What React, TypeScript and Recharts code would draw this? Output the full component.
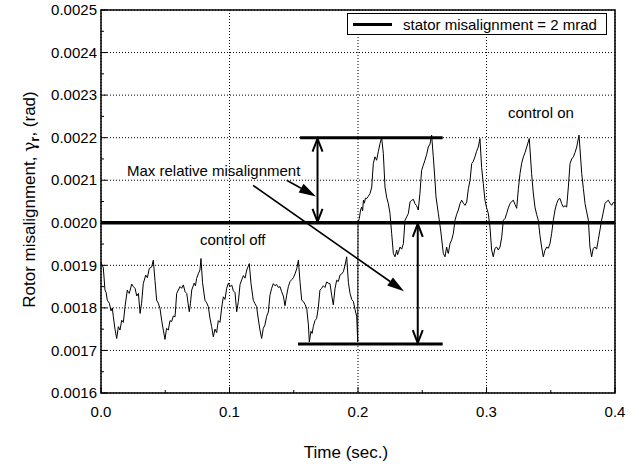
import {
  CartesianGrid,
  Legend,
  Line,
  LineChart,
  ReferenceArea,
  ReferenceDot,
  ReferenceLine,
  XAxis,
  YAxis,
} from "recharts"

// time (s), rotor misalignment (rad), control off
const controlOff: [number, number][] = [
  [0.0, 0.001906], [0.001, 0.0019], [0.0018, 0.001894], [0.0031, 0.001842], [0.004, 0.001836],
  [0.0049, 0.001818], [0.0065, 0.001811], [0.0078, 0.001793], [0.0088, 0.0018], [0.0096, 0.001779],
  [0.0109, 0.00175], [0.0122, 0.001728], [0.0135, 0.001756], [0.0148, 0.001748], [0.0161, 0.001771],
  [0.0174, 0.001766], [0.0187, 0.001803], [0.0205, 0.001842], [0.0213, 0.001836], [0.022, 0.001834],
  [0.0239, 0.001856], [0.0252, 0.00185], [0.0265, 0.001846], [0.0278, 0.001828], [0.0291, 0.001834],
  [0.0304, 0.001787], [0.0316, 0.001811], [0.0329, 0.001857], [0.0348, 0.001877], [0.0361, 0.001871],
  [0.0376, 0.001893], [0.0394, 0.001896], [0.0407, 0.001912], [0.042, 0.001865], [0.0433, 0.001818],
  [0.0446, 0.001811], [0.0459, 0.001799], [0.0472, 0.001771], [0.0485, 0.001748],
  [0.0498, 0.001726], [0.051, 0.001752], [0.0524, 0.001748], [0.0537, 0.00177], [0.055, 0.001768],
  [0.0563, 0.001781], [0.0576, 0.001779], [0.0589, 0.001834], [0.0602, 0.001842], [0.0615, 0.00185],
  [0.0628, 0.001846], [0.0641, 0.001854], [0.0654, 0.001838], [0.0667, 0.001834], [0.0687, 0.001791],
  [0.0696, 0.00181], [0.0706, 0.001842], [0.0725, 0.001858], [0.0735, 0.001852], [0.0744, 0.001869],
  [0.0757, 0.00188], [0.077, 0.001889], [0.0778, 0.001916], [0.079, 0.00186], [0.0809, 0.001818],
  [0.0822, 0.001812], [0.0835, 0.001803], [0.0848, 0.001776], [0.0861, 0.001756], [0.0874, 0.001732],
  [0.0887, 0.00175], [0.09, 0.001742], [0.0913, 0.00177], [0.0926, 0.001766], [0.0939, 0.0018],
  [0.0952, 0.001826], [0.0965, 0.00182], [0.0978, 0.001846], [0.0991, 0.001858], [0.1004, 0.00185],
  [0.1017, 0.001854], [0.103, 0.00184], [0.1043, 0.001836], [0.1056, 0.001791], [0.1069, 0.001815],
  [0.1082, 0.001855], [0.1095, 0.001866], [0.1108, 0.001876], [0.1121, 0.00187], [0.1134, 0.001889],
  [0.1154, 0.001904], [0.1167, 0.001858], [0.1185, 0.001818], [0.1198, 0.00181], [0.1211, 0.001803],
  [0.1224, 0.001774], [0.1237, 0.001748], [0.125, 0.001728],
  [0.1263, 0.001752], [0.1276, 0.00176], [0.1289, 0.00178], [0.1302, 0.00179], [0.1315, 0.00183],
  [0.1328, 0.001846], [0.1341, 0.001857], [0.1354, 0.001852], [0.1367, 0.001855], [0.138, 0.001848],
  [0.1393, 0.00185], [0.1406, 0.001838], [0.1419, 0.001828], [0.1432, 0.001805], [0.1445, 0.00183],
  [0.1458, 0.00185], [0.1471, 0.001862], [0.1484, 0.001866], [0.1497, 0.001871], [0.151, 0.00188],
  [0.1523, 0.001892], [0.1536, 0.001912], [0.1549, 0.00186], [0.1562, 0.001818], [0.1575, 0.001815],
  [0.1588, 0.001808], [0.1601, 0.001799], [0.1614, 0.00176], [0.1621, 0.00172],
  [0.1634, 0.001745], [0.1643, 0.00174], [0.1652, 0.001756], [0.1665, 0.00177], [0.1678, 0.001775],
  [0.1691, 0.0018], [0.1704, 0.001842], [0.1717, 0.001846], [0.173, 0.001852], [0.1743, 0.001848],
  [0.1756, 0.001861], [0.1769, 0.001858], [0.1782, 0.001857], [0.1795, 0.00183], [0.1808, 0.001807],
  [0.1821, 0.001845], [0.1834, 0.001865], [0.1847, 0.001862], [0.186, 0.001877], [0.1873, 0.00188],
  [0.1886, 0.001885], [0.1899, 0.0019], [0.1912, 0.00192], [0.1925, 0.00186], [0.1938, 0.001834],
  [0.1951, 0.00182], [0.1964, 0.001815], [0.1977, 0.001796], [0.199, 0.00178], [0.1998, 0.00172],
]

// control on
const controlOn: [number, number][] = [
  [0.2, 0.002], [0.201, 0.00201], [0.202, 0.00203], [0.2029, 0.002037], [0.2036, 0.002028],
  [0.2042, 0.002053], [0.205, 0.002046], [0.2058, 0.002058], [0.2068, 0.002057], [0.208, 0.002062],
  [0.2094, 0.002069], [0.2107, 0.002084], [0.2119, 0.002139], [0.2132, 0.002155], [0.214, 0.00215],
  [0.2145, 0.002147], [0.2158, 0.002167], [0.2171, 0.002186], [0.2184, 0.0022], [0.2197, 0.002163],
  [0.221, 0.002084], [0.2223, 0.00206], [0.2236, 0.002045], [0.2249, 0.002022], [0.2262, 0.001975],
  [0.2275, 0.001928], [0.2288, 0.00192], [0.2301, 0.001936], [0.2308, 0.001925], [0.2314, 0.00193],
  [0.2327, 0.001943], [0.234, 0.001938], [0.2353, 0.001951], [0.2366, 0.002006], [0.2379, 0.002014],
  [0.2392, 0.002022], [0.2405, 0.002049], [0.2418, 0.002053], [0.2431, 0.002055], [0.2443, 0.002045],
  [0.2456, 0.00204], [0.2469, 0.00203], [0.2482, 0.002069], [0.2495, 0.002123], [0.2508, 0.002135],
  [0.2521, 0.002147], [0.2534, 0.00216], [0.2547, 0.002178], [0.256, 0.002185], [0.2573, 0.002206],
  [0.2586, 0.002155], [0.2599, 0.0021], [0.2607, 0.002061], [0.2625, 0.002022], [0.2643, 0.001983],
  [0.2664, 0.001928], [0.2677, 0.00192], [0.269, 0.001943], [0.2697, 0.001932], [0.2703, 0.001928],
  [0.2716, 0.001951], [0.2729, 0.00196], [0.2742, 0.001975], [0.2755, 0.002006], [0.2768, 0.00202],
  [0.2781, 0.00203], [0.2794, 0.002045], [0.2807, 0.002053], [0.282, 0.002046], [0.2833, 0.002041],
  [0.2846, 0.002049], [0.2859, 0.00208], [0.2872, 0.0021], [0.2885, 0.002139], [0.2898, 0.002145],
  [0.291, 0.002155], [0.2923, 0.002168], [0.2936, 0.002178], [0.2949, 0.002198], [0.2962, 0.00213],
  [0.2975, 0.002092], [0.2988, 0.002053], [0.3001, 0.002035], [0.3014, 0.002022], [0.3027, 0.00199],
  [0.304, 0.001936], [0.3053, 0.00192], [0.3066, 0.00194], [0.3079, 0.001943], [0.3092, 0.001936],
  [0.3105, 0.001943], [0.3118, 0.001965], [0.3131, 0.002006], [0.3144, 0.00201], [0.3157, 0.002022],
  [0.317, 0.002035], [0.3183, 0.002045], [0.3196, 0.00205], [0.3209, 0.002053], [0.3222, 0.002043],
  [0.3235, 0.002034], [0.3248, 0.00208], [0.3261, 0.002116], [0.3274, 0.00214], [0.3287, 0.002155],
  [0.33, 0.002165], [0.3313, 0.002178], [0.3333, 0.002198], [0.3351, 0.002116], [0.3364, 0.00207],
  [0.3377, 0.002037], [0.339, 0.00202], [0.3403, 0.002006], [0.3416, 0.00197], [0.3429, 0.001943],
  [0.3442, 0.00192], [0.3455, 0.001935], [0.3468, 0.001943], [0.3481, 0.00194], [0.3494, 0.001951],
  [0.3507, 0.001975], [0.352, 0.002006], [0.3533, 0.00203], [0.3546, 0.002045], [0.3559, 0.002055],
  [0.3572, 0.002057], [0.3585, 0.002045], [0.3598, 0.002037], [0.3611, 0.00204], [0.3624, 0.002037],
  [0.3637, 0.002084], [0.365, 0.002139], [0.3663, 0.00215], [0.3676, 0.002155], [0.3689, 0.002165],
  [0.3702, 0.002178], [0.372, 0.002206], [0.3741, 0.002116], [0.3754, 0.00208], [0.3767, 0.002045],
  [0.378, 0.002025], [0.3793, 0.002006], [0.3805, 0.001943], [0.3818, 0.00192], [0.3831, 0.00194],
  [0.3844, 0.001943], [0.3857, 0.001938], [0.387, 0.00196], [0.3883, 0.001983], [0.3896, 0.002006],
  [0.3909, 0.002025], [0.3922, 0.002045], [0.3935, 0.00205], [0.3948, 0.002053], [0.3961, 0.002046],
  [0.3974, 0.002041], [0.3987, 0.002048], [0.4, 0.002045],
]

const statorTime = [0, 0.4]
const statorValue = [0.002, 0.002]

const xMajor = [0, 0.1, 0.2, 0.3, 0.4]
const xMinor = [0.05, 0.15, 0.25, 0.35]
const yMajor = [0.0016, 0.0017, 0.0018, 0.0019, 0.002, 0.0021, 0.0022, 0.0023, 0.0024, 0.0025]
const yMinor = [0.00165, 0.00175, 0.00185, 0.00195, 0.00205, 0.00215, 0.00225, 0.00235, 0.00245]

const rotorData = [...controlOff, ...controlOn].map(([t, rotor]) => ({ t, rotor }))
const statorData = statorTime.map((t, i) => ({ t, stator: statorValue[i] }))

const FONT = "'Liberation Sans', Arial, Helvetica, sans-serif"

function XTick({ x, y, payload }: any) {
  const major = xMajor.includes(payload.value)
  return (
    <g>
      <line x1={x} y1={y} x2={x} y2={y - (major ? 6 : 3)} stroke="#000" />
      {major && (
        <text x={x} y={y + 19} dy="0.35em" textAnchor="middle" fontSize={15} fontFamily={FONT} fill="#000">
          {payload.value.toFixed(1)}
        </text>
      )}
    </g>
  )
}

function YTick({ x, y, payload }: any) {
  const major = yMajor.includes(payload.value)
  return (
    <g>
      <line x1={x} y1={y} x2={x + (major ? 6 : 3)} y2={y} stroke="#000" />
      {major && (
        <text x={x - 4} y={y} dy="0.35em" textAnchor="end" fontSize={15} fontFamily={FONT} fill="#000">
          {payload.value.toFixed(4)}
        </text>
      )}
    </g>
  )
}

function YTitle({ viewBox }: any) {
  const cx = viewBox.x - 6
  const cy = viewBox.y + viewBox.height / 2 - 2
  return (
    <text
      x={cx}
      y={cy}
      transform={`rotate(-90 ${cx} ${cy})`}
      textAnchor="middle"
      fontSize={17}
      fontFamily={FONT}
      fill="#000"
    >
      Rotor misalignment, <tspan fontFamily="'DejaVu Serif', serif">γ</tspan>
      <tspan fontWeight="bold" fontSize={13} dy={4}>r</tspan>
      <tspan dy={-4}>, (rad)</tspan>
    </text>
  )
}

function XTitle({ viewBox }: any) {
  return (
    <text
      x={viewBox.x + viewBox.width / 2 - 12}
      y={viewBox.y + 59}
      dy="0.35em"
      textAnchor="middle"
      fontSize={17}
      fontFamily={FONT}
      fill="#000"
    >
      Time (sec.)
    </text>
  )
}

function StatorLegend({ payload }: any) {
  const item = (payload ?? []).find((p: any) => p.dataKey === "stator")
  return (
    <div
      style={{
        boxSizing: "border-box",
        width: 260,
        height: 22,
        border: "1px solid #000",
        background: "#fff",
        display: "flex",
        alignItems: "center",
        fontFamily: FONT,
        fontSize: 15,
        color: "#000",
      }}
    >
      <span style={{ display: "inline-block", width: 39, height: 3, background: "#000", marginLeft: 5, marginRight: 11 }} />
      <span>{item ? item.value : ""}</span>
    </div>
  )
}

function DoubleArrow({ x1, y1, x2, y2 }: any) {
  return (
    <g stroke="#000" strokeWidth={2} fill="none">
      <line x1={x1} y1={y1} x2={x2} y2={y2} />
      <polyline points={`${x1 - 5},${y1 + 14} ${x1},${y1 + 1} ${x1 + 5},${y1 + 14}`} />
      <polyline points={`${x2 - 5},${y2 - 14} ${x2},${y2 - 1} ${x2 + 5},${y2 - 14}`} />
    </g>
  )
}

function Pointer({ x1, y1, x2, y2 }: any) {
  const a = Math.atan2(y2 - y1, x2 - x1)
  const len = 17
  const half = 5
  const bx = x2 - len * Math.cos(a)
  const by = y2 - len * Math.sin(a)
  const pts = [
    `${x2},${y2}`,
    `${bx + half * Math.sin(a)},${by - half * Math.cos(a)}`,
    `${bx - half * Math.sin(a)},${by + half * Math.cos(a)}`,
  ].join(" ")
  return (
    <g>
      <line x1={x1} y1={y1} x2={bx} y2={by} stroke="#000" strokeWidth={1.6} />
      <polygon points={pts} fill="#000" />
    </g>
  )
}

const note = (text: string) => (p: any) => (
  <text x={p.cx} y={p.cy} fontSize={15} fontFamily={FONT} fill="#000">
    {text}
  </text>
)

export default function App() {
  return (
    <div style={{ position: "absolute", left: 0, top: 0, background: "#fff" }}>
      <LineChart width={639} height={464} margin={{ top: 10, right: 24, bottom: 41, left: 41 }}>
        <CartesianGrid
          horizontalValues={yMajor}
          verticalValues={xMajor}
          stroke="#000"
          strokeDasharray="1 2"
        />
        <XAxis
          dataKey="t"
          type="number"
          domain={[0, 0.4]}
          ticks={[...xMajor, ...xMinor].sort((a, b) => a - b)}
          interval={0}
          tickSize={0}
          tickMargin={0}
          height={30}
          axisLine={false}
          tick={<XTick />}
          allowDataOverflow
          label={{ content: XTitle }}
        />
        <YAxis
          type="number"
          domain={[0.0016, 0.0025]}
          ticks={[...yMajor, ...yMinor].sort((a, b) => a - b)}
          interval={0}
          tickSize={0}
          tickMargin={0}
          width={60}
          axisLine={false}
          tick={<YTick />}
          allowDataOverflow
          label={{ content: YTitle }}
        />
        <ReferenceArea x1={0} x2={0.4} y1={0.0016} y2={0.0025} fill="none" stroke="#000" strokeWidth={1.5} ifOverflow="visible" />
        <Line
          data={rotorData}
          dataKey="rotor"
          stroke="#000"
          strokeWidth={1}
          dot={false}
          activeDot={false}
          legendType="none"
          isAnimationActive={false}
        />
        <Line
          data={statorData}
          dataKey="stator"
          name="stator misalignment = 2 mrad"
          stroke="#000"
          strokeWidth={3.5}
          dot={false}
          activeDot={false}
          isAnimationActive={false}
        />
        <ReferenceLine segment={[{ x: 0.1549, y: 0.0022 }, { x: 0.2659, y: 0.0022 }]} stroke="#000" strokeWidth={3} />
        <ReferenceLine segment={[{ x: 0.1533, y: 0.001715 }, { x: 0.2659, y: 0.001715 }]} stroke="#000" strokeWidth={3} />
        <ReferenceLine segment={[{ x: 0.1685, y: 0.0022 }, { x: 0.1685, y: 0.002 }]} shape={DoubleArrow} />
        <ReferenceLine segment={[{ x: 0.2465, y: 0.002 }, { x: 0.2465, y: 0.001715 }]} shape={DoubleArrow} />
        <ReferenceLine segment={[{ x: 0.1445, y: 0.0021 }, { x: 0.1673, y: 0.002062 }]} shape={Pointer} />
        <ReferenceLine segment={[{ x: 0.1183, y: 0.002088 }, { x: 0.2358, y: 0.001839 }]} shape={Pointer} />
        <ReferenceDot x={0.0202} y={0.00211} r={0} shape={note("Max relative misalignment")} />
        <ReferenceDot x={0.077} y={0.001947} r={0} shape={note("control off")} />
        <ReferenceDot x={0.3167} y={0.002246} r={0} shape={note("control on")} />
        <Legend
          layout="vertical"
          align="center"
          verticalAlign="middle"
          wrapperStyle={{ left: 347, top: 13, width: 260, height: 22 }}
          content={StatorLegend}
        />
      </LineChart>
    </div>
  )
}
